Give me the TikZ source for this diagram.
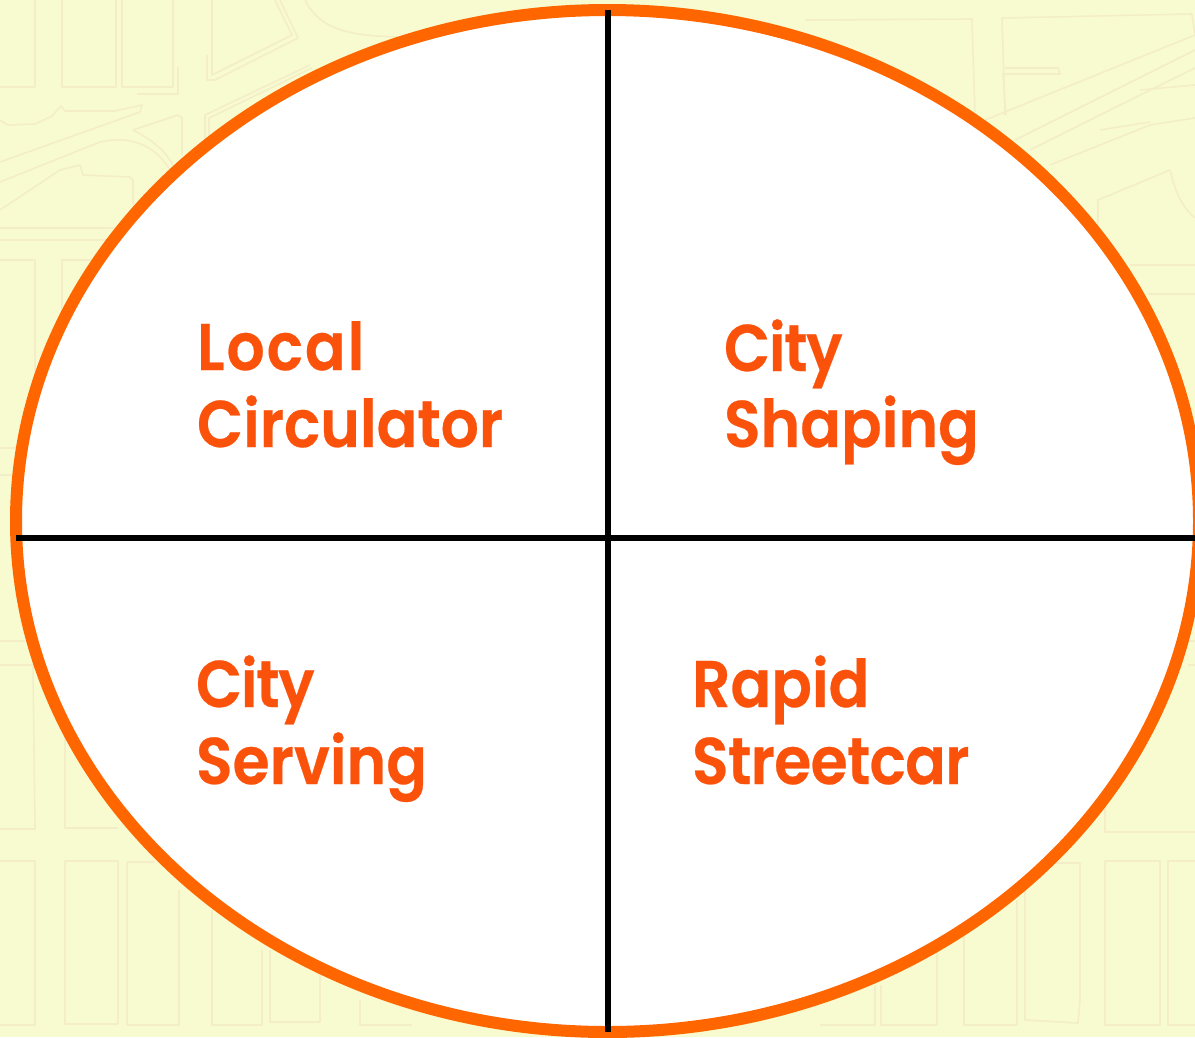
\documentclass[tikz,border=0pt]{standalone}
\usepackage{fontspec}
\setmainfont{Poppins}[BoldFont=* SemiBold,BoldFeatures={FakeStretch=0.91,FakeBold=0.4}]
\definecolor{bgc}{HTML}{F8FBCF}
\definecolor{mapc}{HTML}{F3EEC8}
\definecolor{ringc}{HTML}{FF6600}
\definecolor{txtc}{HTML}{FB520B}
\tikzset{
  map/.style={draw=mapc,line width=1.6pt,line join=round},
  ring/.style={draw=ringc,fill=white,line width=12pt},
  divider/.style={draw=black,line width=6pt},
  lbl/.style={text=txtc,anchor=base west,align=left,inner sep=0pt,outer sep=0pt,
    font=\fontsize{66}{77}\selectfont\bfseries}
}
\begin{document}
\begin{tikzpicture}[x=1pt,y=-1pt]
\useasboundingbox (0,0) rectangle (1195,1037);
\fill[bgc] (0,0) rectangle (1195,1037);
% faint street map
\draw[map] (0,87)--(35,87)--(35,0);
\draw[map] (62,0)--(62,87)--(116,87)--(116,0);
\draw[map] (122,0)--(122,87)--(173,87)--(173,0);
\draw[map] (137,94)--(178,94)--(178,67);
\draw[map] (212,0)--(212,75)--(292,35)--(275,0);
\draw[map] (207,55)--(207,80)--(215,80)--(298,38)--(280,0);
\draw[map] (305,0)..controls (320,30) and (350,36)..(400,37);
\draw[map] (205,140)--(205,115)--(310,65);
\draw[map] (209,140)--(209,118)--(312,68);
\draw[map] (0,162)--(140,112)--(142,105)--(115,111)--(65,111)--(61,106)--(52,116)--(35,124)--(8,125)--(0,120);
\draw[map] (133,130)--(178,115)--(182,118)--(182,155);
\draw[map] (133,130)..controls (155,142) and (165,150)..(176,170);
\draw[map] (0,182)--(100,142)..controls (130,135) and (155,145)..(170,170);
\draw[map] (0,210)--(60,170)--(80,165)--(83,175)--(130,177)--(133,180)--(133,205);
\draw[map] (0,228)--(115,228);
\draw[map] (0,240)--(110,240);
\draw[map] (0,260)--(35,260)--(35,440);
\draw[map] (62,340)--(62,260)--(95,260);
\draw[map] (0,448)--(20,448);
\draw[map] (0,475)--(20,475);
\draw[map] (0,641)--(25,641);
\draw[map] (0,665)--(33,665)--(35,829)--(0,829);
\draw[map] (65,730)--(65,828)--(118,828);
\draw[map] (0,861)--(35,861)--(35,1025)--(0,1025);
\draw[map] (65,861)--(118,861)--(118,1024)--(65,1024)--cycle;
\draw[map] (127,862)--(155,862);
\draw[map] (127,862)--(127,1025)--(179,1025)--(179,890);
\draw[map] (212,910)--(212,1025)--(262,1025)--(262,950);
\draw[map] (270,950)--(270,1022)--(320,1022)--(320,975);
\draw[map] (360,1000)--(360,1025)--(412,1025);
\draw[map] (820,1025)--(875,1025)--(875,985);
\draw[map] (881,985)--(881,1025)--(937,1025)--(937,950);
\draw[map] (964,930)--(964,1025)--(1017,1025)--(1017,900);
\draw[map] (1025,890)--(1025,1020)--(1078,1023)--(1080,1000)--(1080,863)--(1050,863);
\draw[map] (1105,861)--(1160,861)--(1160,1025)--(1105,1025)--cycle;
\draw[map] (1195,861)--(1168,861)--(1168,1025)--(1195,1025);
\draw[map] (1105,800)--(1105,832)--(1195,832);
\draw[map] (1190,641)--(1195,641);
\draw[map] (1188,665)--(1195,665);
\draw[map] (805,20)--(972,19)--(975,115);
\draw[map] (1005,115)--(1002,18)--(1192,14)--(1195,36);
\draw[map] (1005,68)--(1058,68)--(1060,74)--(1003,74);
\draw[map] (1003,74)--(1006,115);
\draw[map] (985,120)--(1195,35);
\draw[map] (1015,140)--(1195,50);
\draw[map] (1030,150)--(1120,105)--(1195,68);
\draw[map] (1140,90)--(1195,85);
\draw[map] (1050,165)--(1150,125)--(1195,118);
\draw[map] (1100,130)--(1150,122);
\draw[map] (1098,230)--(1098,200)--(1170,170)..controls (1175,190) and (1180,205)..(1195,218);
\draw[map] (1130,265)--(1195,265);
\draw[map] (1148,294)--(1195,294);
% ring and dividers
\coordinate (top) at (608,10);
\coordinate (bottom) at (608,1032);
\coordinate (left) at (16,538);
\coordinate (right) at (1195,538);
\draw[ring] (607.5,521) ellipse [x radius=591.5,y radius=511];
\draw[divider] (top)--(bottom);
\draw[divider] (left)--(right);
% labels
\node[lbl] (lc1) at (197,370) {\addfontfeature{LetterSpace=3}Local};
\node[lbl] (lc2) at (197,447) {Circulator};
\node[lbl] (cs1) at (724,371) {\addfontfeature{LetterSpace=-2}City};
\node[lbl] (cs2) at (724,447) {Shaping};
\node[lbl] (sv1) at (196,707) {\addfontfeature{LetterSpace=-2}City};
\node[lbl] (sv2) at (196,784) {Serving};
\node[lbl] (rs1) at (692,707) {Rapid};
\node[lbl] (rs2) at (692,784) {\addfontfeature{LetterSpace=-1}Streetcar};
\end{tikzpicture}
\end{document}
